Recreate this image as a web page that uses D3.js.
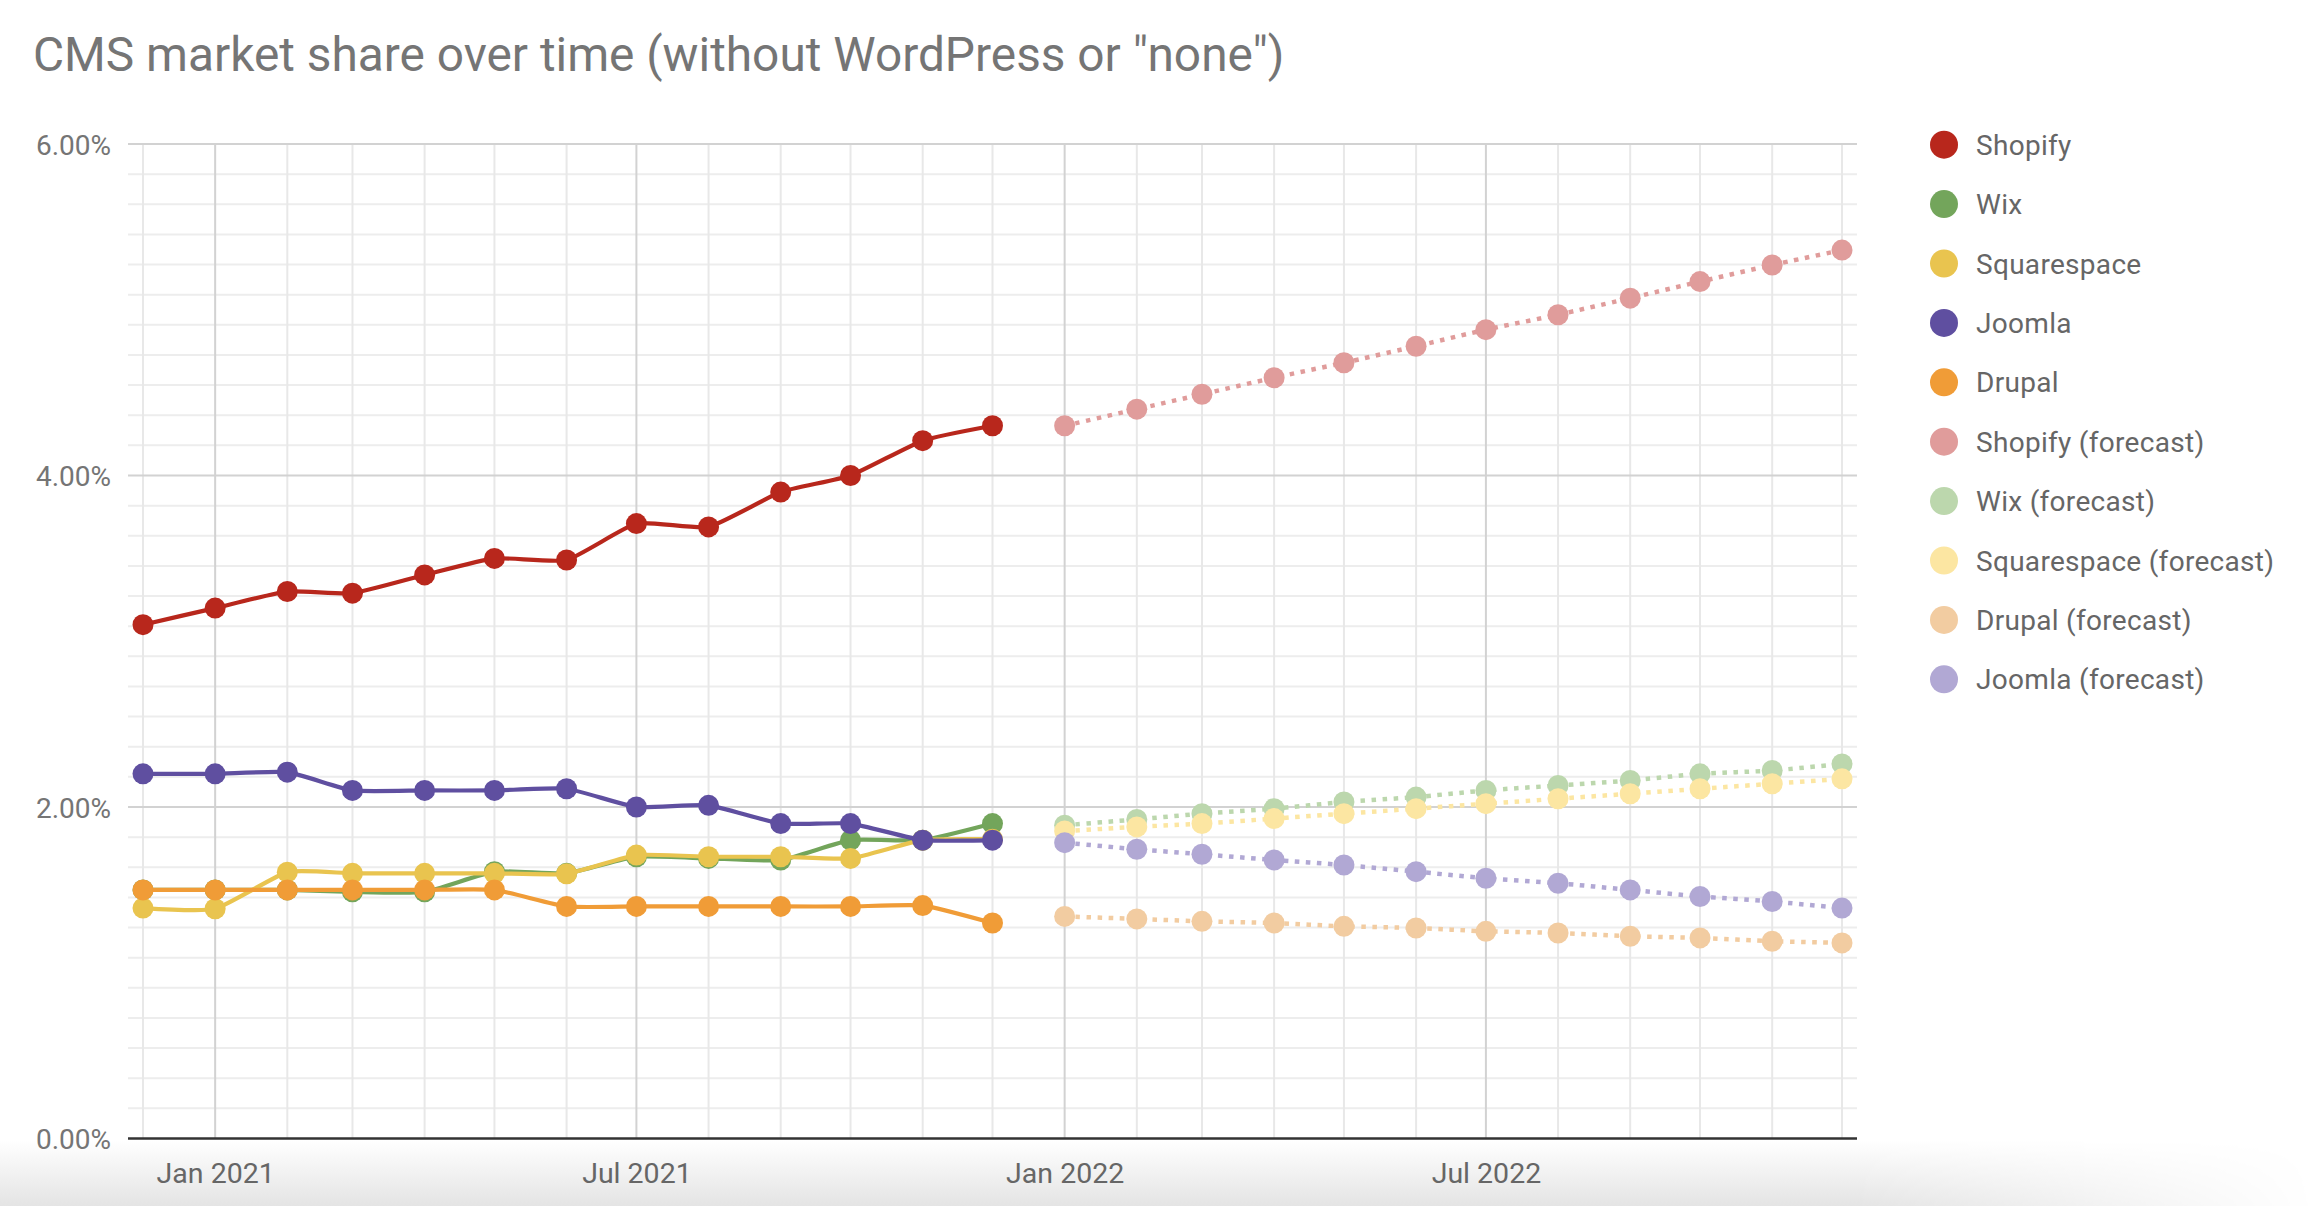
<!DOCTYPE html>
<html>
<head>
<meta charset="utf-8">
<script src="https://cdn.jsdelivr.net/npm/d3@7"></script>
<style>
  html, body { margin: 0; padding: 0; background: #fff; }
  svg { display: block; font-family: Roboto, "Noto Sans", sans-serif; }
</style>
</head>
<body>
<svg id="chart" width="2316" height="1206"></svg>
<script>
// ---------------- DATA ----------------
const title = 'CMS market share over time (without WordPress or "none")';

const historyMonths = ["2020-12","2021-01","2021-02","2021-03","2021-04","2021-05","2021-06",
                       "2021-07","2021-08","2021-09","2021-10","2021-11","2021-12"];
const forecastMonths = ["2022-01","2022-02","2022-03","2022-04","2022-05","2022-06",
                        "2022-07","2022-08","2022-09","2022-10","2022-11","2022-12"];

// values in percent
const shopify     = [3.10, 3.20, 3.30, 3.29, 3.40, 3.50, 3.49, 3.71, 3.69, 3.90, 4.00, 4.21, 4.30];
const wix         = [1.50, 1.50, 1.50, 1.488, 1.488, 1.61, 1.60, 1.70, 1.69, 1.68, 1.80, 1.80, 1.90];
const squarespace = [1.39, 1.386, 1.607, 1.60, 1.60, 1.60, 1.597, 1.71, 1.70, 1.70, 1.69, 1.80, 1.806];
const joomla      = [2.20, 2.20, 2.21, 2.10, 2.10, 2.10, 2.11, 2.00, 2.01, 1.90, 1.90, 1.80, 1.80];
const drupal      = [1.50, 1.50, 1.50, 1.50, 1.50, 1.50, 1.40, 1.40, 1.40, 1.40, 1.40, 1.405, 1.30];

const shopifyForecast     = [4.30, 4.40, 4.49, 4.59, 4.68, 4.78, 4.88, 4.97, 5.07, 5.17, 5.27, 5.36];
const wixForecast         = [1.89, 1.925, 1.96, 1.99, 2.03, 2.06, 2.10, 2.13, 2.16, 2.20, 2.22, 2.26];
const squarespaceForecast = [1.855, 1.88, 1.90, 1.93, 1.96, 1.99, 2.02, 2.05, 2.08, 2.11, 2.14, 2.17];
const drupalForecast      = [1.34, 1.325, 1.31, 1.30, 1.28, 1.27, 1.25, 1.24, 1.22, 1.21, 1.19, 1.18];
const joomlaForecast      = [1.785, 1.745, 1.715, 1.68, 1.65, 1.61, 1.57, 1.54, 1.50, 1.46, 1.43, 1.39];

const yTicks = [0, 2, 4, 6];
const xTickMonths = ["2021-01", "2021-07", "2022-01", "2022-07"];

const seriesList = [
  { name: "Shopify",                months: historyMonths,  values: shopify,             color: "#b8271c", forecast: false },
  { name: "Wix",                    months: historyMonths,  values: wix,                 color: "#73a55b", forecast: false },
  { name: "Squarespace",            months: historyMonths,  values: squarespace,         color: "#e9c44f", forecast: false },
  { name: "Joomla",                 months: historyMonths,  values: joomla,              color: "#5f4fa0", forecast: false },
  { name: "Drupal",                 months: historyMonths,  values: drupal,              color: "#f09c37", forecast: false },
  { name: "Shopify (forecast)",     months: forecastMonths, values: shopifyForecast,     color: "#e09c9b", forecast: true },
  { name: "Wix (forecast)",         months: forecastMonths, values: wixForecast,         color: "#bcd7ad", forecast: true },
  { name: "Squarespace (forecast)", months: forecastMonths, values: squarespaceForecast, color: "#fce6a2", forecast: true },
  { name: "Drupal (forecast)",      months: forecastMonths, values: drupalForecast,      color: "#f2cca1", forecast: true },
  { name: "Joomla (forecast)",      months: forecastMonths, values: joomlaForecast,      color: "#b1a8d4", forecast: true }
];

// ---------------- LAYOUT ----------------
const svg = d3.select("#chart");
const W = 2316, H = 1206;
const plotLeft = 128, plotRight = 1857, plotTop = 144, plotBottom = 1138.5;
const parse = d3.timeParse("%Y-%m");

const allMonths = historyMonths.concat(forecastMonths).map(parse);
const x = d3.scaleTime()
  .domain(d3.extent(allMonths))
  .range([143, 1842]);
const y = d3.scaleLinear().domain([0, 6]).range([plotBottom, plotTop]);

// bottom soft shadow
const defs = svg.append("defs");
const vg = defs.append("linearGradient").attr("id", "shadeV").attr("x1", 0).attr("y1", 0).attr("x2", 0).attr("y2", 1);
vg.append("stop").attr("offset", "0%").attr("stop-color", "#ffffff");
vg.append("stop").attr("offset", "100%").attr("stop-color", "#e4e4e4");
const hg = defs.append("linearGradient").attr("id", "shadeH").attr("x1", 0).attr("y1", 0).attr("x2", 1).attr("y2", 0);
hg.append("stop").attr("offset", "0%").attr("stop-color", "#fff");
hg.append("stop").attr("offset", "80%").attr("stop-color", "#fff");
hg.append("stop").attr("offset", "100%").attr("stop-color", "#000");
defs.append("mask").attr("id", "shadeMask")
  .append("rect").attr("x", 0).attr("y", 1140).attr("width", W).attr("height", 66).attr("fill", "url(#shadeH)");
svg.append("rect").attr("x", 0).attr("y", 1140).attr("width", W).attr("height", 66)
  .attr("fill", "url(#shadeV)").attr("mask", "url(#shadeMask)");

// title
svg.append("text")
  .attr("x", 33).attr("y", 71)
  .attr("font-size", 47.8)
  .attr("fill", "#757575")
  .text(title);

// gridlines
const grid = svg.append("g");
// minor horizontal (10 between each major)
const minorY = [];
for (let i = 0; i < yTicks.length - 1; i++) {
  for (let k = 1; k <= 10; k++) minorY.push(yTicks[i] + (yTicks[i + 1] - yTicks[i]) * k / 11);
}
grid.selectAll(".minorH").data(minorY).enter().append("line")
  .attr("x1", plotLeft).attr("x2", plotRight)
  .attr("y1", d => y(d)).attr("y2", d => y(d))
  .attr("stroke", "#ededed").attr("stroke-width", 2);

// vertical month lines
const monthLines = d3.timeMonth.range(parse("2020-12"), d3.timeMonth.offset(parse("2022-12"), 1));
const majorSet = new Set(xTickMonths);
const fmtKey = d3.timeFormat("%Y-%m");
grid.selectAll(".v").data(monthLines).enter().append("line")
  .attr("x1", d => x(d)).attr("x2", d => x(d))
  .attr("y1", plotTop).attr("y2", plotBottom)
  .attr("stroke", d => majorSet.has(fmtKey(d)) ? "#d2d2d2" : "#e8e8e8")
  .attr("stroke-width", 2);

// major horizontal
grid.selectAll(".majorH").data(yTicks.filter(d => d > 0)).enter().append("line")
  .attr("x1", plotLeft).attr("x2", plotRight)
  .attr("y1", d => y(d)).attr("y2", d => y(d))
  .attr("stroke", "#d2d2d2").attr("stroke-width", 2);

// y axis labels
const yAxis = d3.axisLeft(y).tickValues(yTicks).tickSize(0).tickPadding(17)
  .tickFormat(d => d3.format(".2f")(d) + "%");
const yg = svg.append("g").attr("transform", `translate(${plotLeft},0)`).call(yAxis);
yg.select(".domain").remove();
yg.selectAll("text").attr("font-size", 28).attr("fill", "#757575")
  .attr("font-family", "Roboto, sans-serif").attr("dy", "0.36em");

// x axis labels
const xAxis = d3.axisBottom(x).tickValues(xTickMonths.map(parse)).tickSize(0).tickPadding(0)
  .tickFormat(d3.timeFormat("%b %Y"));
const xg = svg.append("g").attr("transform", `translate(0,${plotBottom})`).call(xAxis);
xg.select(".domain").remove();
xg.selectAll("text").attr("font-size", 28.5).attr("fill", "#666")
  .attr("font-family", "Roboto, sans-serif").attr("y", 44).attr("dy", 0);

// series
const line = d3.line()
  .x(d => x(d.date))
  .y(d => y(d.value))
  .curve(d3.curveCardinal.tension(0.5));

seriesList.forEach(s => {
  const pts = s.months.map((m, i) => ({ date: parse(m), value: s.values[i] }));
  const g = svg.append("g");
  g.append("path")
    .datum(pts)
    .attr("d", line)
    .attr("fill", "none")
    .attr("stroke", s.color)
    .attr("stroke-width", s.forecast ? 4.5 : 4.2)
    .attr("stroke-dasharray", s.forecast ? "4.5,6.5" : null)
    .attr("stroke-linejoin", "round");
  g.selectAll("circle").data(pts).enter().append("circle")
    .attr("cx", d => x(d.date))
    .attr("cy", d => y(d.value))
    .attr("r", 10.5)
    .attr("fill", s.color);
});

// baseline axis line
svg.append("line")
  .attr("x1", plotLeft).attr("x2", plotRight)
  .attr("y1", plotBottom).attr("y2", plotBottom)
  .attr("stroke", "#333").attr("stroke-width", 2.5);

// legend
const legend = svg.append("g");
const lg = legend.selectAll("g").data(seriesList).enter().append("g")
  .attr("transform", (d, i) => `translate(1944,${144.7 + i * 59.4})`);
lg.append("circle").attr("r", 14).attr("fill", d => d.color);
lg.append("text")
  .attr("x", 32).attr("dy", "0.36em")
  .attr("font-size", 28).attr("fill", "#666")
  .attr("letter-spacing", 0.3)
  .text(d => d.name);
</script>
</body>
</html>
